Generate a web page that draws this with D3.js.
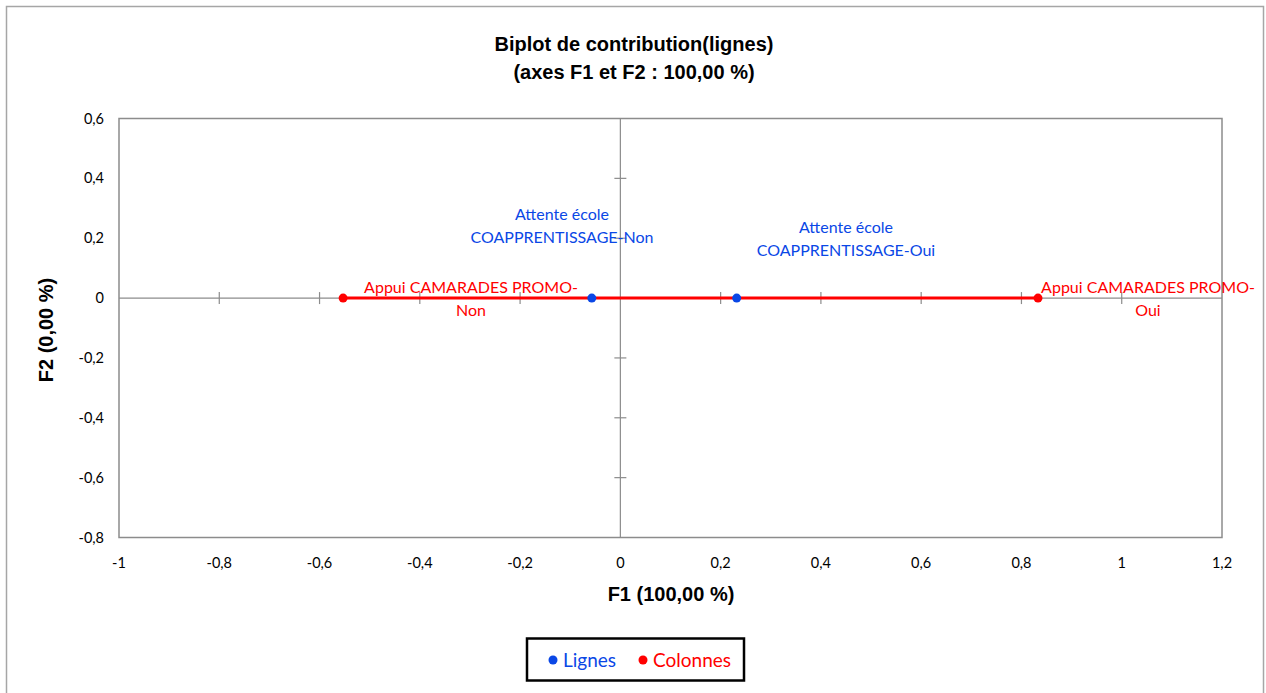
<!DOCTYPE html>
<html><head><meta charset="utf-8">
<script src="https://cdn.jsdelivr.net/npm/d3@7"></script>
<style>body{margin:0;background:#fff}svg{display:block}</style>
</head><body>
<script>
const rowLabels = [["Attente école","COAPPRENTISSAGE-Non"],["Attente école","COAPPRENTISSAGE-Oui"]];
const rowF1 = [-0.057, 0.232];
const rowF2 = [0, 0];
const colLabels = [["Appui CAMARADES PROMO-","Non"],["Appui CAMARADES PROMO-","Oui"]];
const colF1 = [-0.553, 0.833];
const colF2 = [0, 0];
const xTicks = [-1,-0.8,-0.6,-0.4,-0.2,0,0.2,0.4,0.6,0.8,1,1.2];
const yTicks = [0.6,0.4,0.2,0,-0.2,-0.4,-0.6,-0.8];
const titleLines = ["Biplot de contribution(lignes)","(axes F1 et F2 : 100,00 %)"];
const xTitle = "F1 (100,00 %)", yTitle = "F2 (0,00 %)";
const legendItems = ["Lignes","Colonnes"];

const W=1266,H=693;
const BLUE="#0a47e6", RED="#ff0000";
const fmt = v => v===0 ? "0" : String(+v.toFixed(1)).replace(".",",");
const svg=d3.select("body").append("svg").attr("width",W).attr("height",H);
const body="Lato, 'Noto Sans', sans-serif";
const bold="'Liberation Sans', Arial, sans-serif";

// outer frame
svg.append("path").attr("d",`M6.5,${H+2} V6.5 H1263.5 V${H+2}`).attr("fill","none").attr("stroke","#a6a6a6").attr("stroke-width",1.5);

const x=d3.scaleLinear().domain([-1,1.2]).range([119,1222]);
const y=d3.scaleLinear().domain([-0.8,0.6]).range([537.5,118.5]);

// plot border
svg.append("rect").attr("x",x(-1)).attr("y",y(0.6)).attr("width",x(1.2)-x(-1)).attr("height",y(-0.8)-y(0.6))
  .attr("fill","none").attr("stroke","#8c8c8c").attr("stroke-width",1.5);

// zero axes
svg.append("line").attr("x1",x(-1)).attr("x2",x(1.2)).attr("y1",y(0)).attr("y2",y(0)).attr("stroke","#8c8c8c").attr("stroke-width",1.2);
svg.append("line").attr("x1",x(0)).attr("x2",x(0)).attr("y1",y(0.6)).attr("y2",y(-0.8)).attr("stroke","#8c8c8c").attr("stroke-width",1.2);
// ticks on zero axes
svg.selectAll(".xt").data(xTicks.filter(v=>v>-1&&v<1.2&&v!==0)).join("line")
  .attr("x1",d=>x(d)).attr("x2",d=>x(d)).attr("y1",y(0)-6).attr("y2",y(0)+6).attr("stroke","#8c8c8c").attr("stroke-width",1.2);
svg.selectAll(".yt").data(yTicks.filter(v=>v>-0.8&&v<0.6&&v!==0)).join("line")
  .attr("y1",d=>y(d)).attr("y2",d=>y(d)).attr("x1",x(0)-6).attr("x2",x(0)+6).attr("stroke","#8c8c8c").attr("stroke-width",1.2);

// tick labels
svg.selectAll(".xl").data(xTicks).join("text").attr("x",d=>x(d)).attr("y",568).attr("text-anchor","middle")
  .attr("font-family",body).attr("font-size",14.5).attr("fill","#000").text(fmt);
svg.selectAll(".yl").data(yTicks).join("text").attr("x",104).attr("y",d=>y(d)+5).attr("text-anchor","end")
  .attr("font-family",body).attr("font-size",14.5).attr("fill","#000").text(fmt);

// titles
svg.selectAll(".tt").data(titleLines).join("text").attr("x",634).attr("y",(d,i)=>51+i*28).attr("text-anchor","middle")
  .attr("font-family",bold).attr("font-weight","bold").attr("font-size",20).attr("fill","#000").text(d=>d);
svg.append("text").attr("x",671).attr("y",601).attr("text-anchor","middle").attr("font-family",bold).attr("font-weight","bold").attr("font-size",20).text(xTitle);
svg.append("text").attr("transform","translate(53,330) rotate(-90)").attr("text-anchor","middle").attr("font-family",bold).attr("font-weight","bold").attr("font-size",20).text(yTitle);

// red line between column points
svg.append("line").attr("x1",x(colF1[0])).attr("x2",x(colF1[1])).attr("y1",y(colF2[0])).attr("y2",y(colF2[1])).attr("stroke",RED).attr("stroke-width",3);

// points
svg.selectAll(".rp").data(rowF1).join("circle").attr("cx",d=>x(d)).attr("cy",(d,i)=>y(rowF2[i])).attr("r",4.5).attr("fill",BLUE);
svg.selectAll(".cp").data(colF1).join("circle").attr("cx",d=>x(d)).attr("cy",(d,i)=>y(colF2[i])).attr("r",4.5).attr("fill",RED);

// labels
const rowLabPos=[[562,220],[846,233]];
rowLabels.forEach((L,i)=>{
  L.forEach((t,j)=>svg.append("text").attr("x",rowLabPos[i][0]).attr("y",rowLabPos[i][1]+j*23).attr("text-anchor","middle")
    .attr("font-family",body).attr("font-size",16).attr("fill",BLUE).text(t));
});
const colLabPos=[[471,293],[1148,293]];
colLabels.forEach((L,i)=>{
  L.forEach((t,j)=>svg.append("text").attr("x",colLabPos[i][0]).attr("y",colLabPos[i][1]+j*23).attr("text-anchor","middle")
    .attr("font-family",body).attr("font-size",16).attr("fill",RED).text(t));
});

// legend
svg.append("rect").attr("x",527).attr("y",638.5).attr("width",217).attr("height",42).attr("fill","#fff").attr("stroke","#000").attr("stroke-width",2.5);
const legX=[553,643], legC=[BLUE,RED];
legendItems.forEach((t,i)=>{
  svg.append("circle").attr("cx",legX[i]).attr("cy",660).attr("r",4.5).attr("fill",legC[i]);
  svg.append("text").attr("x",legX[i]+10).attr("y",666.5).attr("font-family",body).attr("font-size",19).attr("fill",legC[i]).text(t);
});
</script>
</body></html>
